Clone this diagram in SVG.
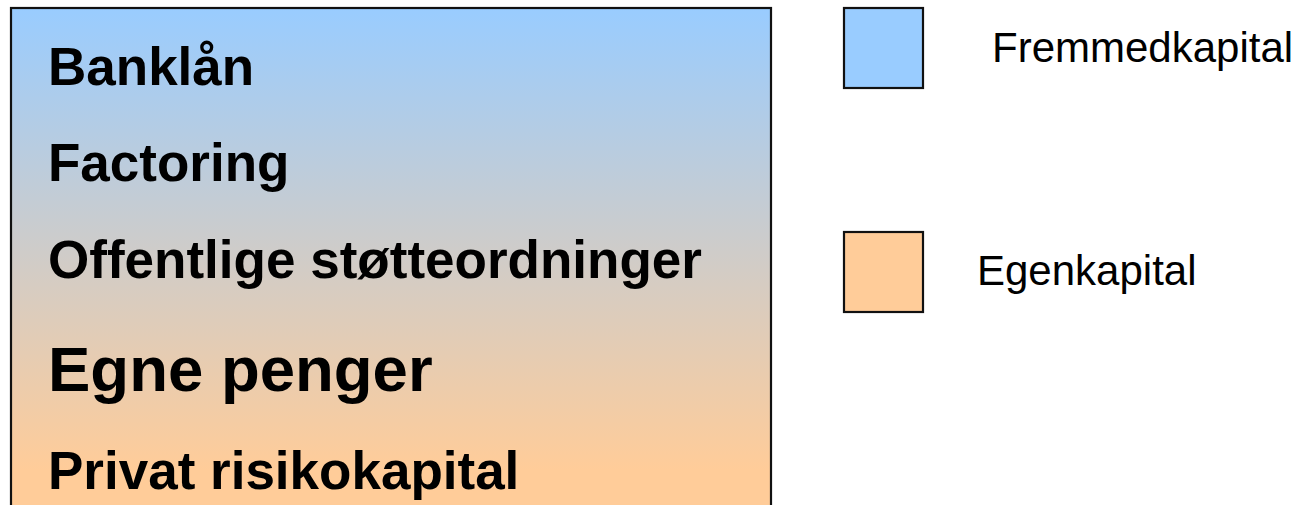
<svg xmlns="http://www.w3.org/2000/svg" width="1303" height="505" viewBox="0 0 1303 505">
  <defs>
    <linearGradient id="capitalFill" x1="0" y1="8" x2="0" y2="470" gradientUnits="userSpaceOnUse">
      <stop offset="0" stop-color="#99CCFF"/>
      <stop offset="1" stop-color="#FFCC99"/>
    </linearGradient>
    <style>
      .box { stroke: #111111; stroke-width: 2.2; }
      .item { font-family: "Liberation Sans", Arial, sans-serif; font-weight: bold; font-size: 53px; fill: #000000; }
      .big { font-size: 63.5px; }
      .legend { font-family: "Liberation Sans", Arial, sans-serif; font-size: 42px; fill: #000000; }
    </style>
  </defs>

  <!-- Financing sources -->
  <g id="sources">
    <rect class="box" x="11" y="8" width="760" height="540" fill="url(#capitalFill)"/>
    <text class="item" x="48" y="85">Banklån</text>
    <text class="item" x="48" y="181">Factoring</text>
    <text class="item" x="48" y="278" textLength="654" lengthAdjust="spacingAndGlyphs">Offentlige støtteordninger</text>
    <text class="item big" x="48" y="391">Egne penger</text>
    <text class="item" x="48" y="489">Privat risikokapital</text>
  </g>

  <!-- Legend -->
  <g id="legend-debt">
    <rect class="box" x="844" y="8" width="79" height="80" fill="#99CCFF"/>
    <text class="legend" x="992" y="62">Fremmedkapital</text>
  </g>
  <g id="legend-equity">
    <rect class="box" x="844" y="232" width="79" height="80" fill="#FFCC99"/>
    <text class="legend" x="977" y="285">Egenkapital</text>
  </g>

  <g id="connectors"/>
</svg>
